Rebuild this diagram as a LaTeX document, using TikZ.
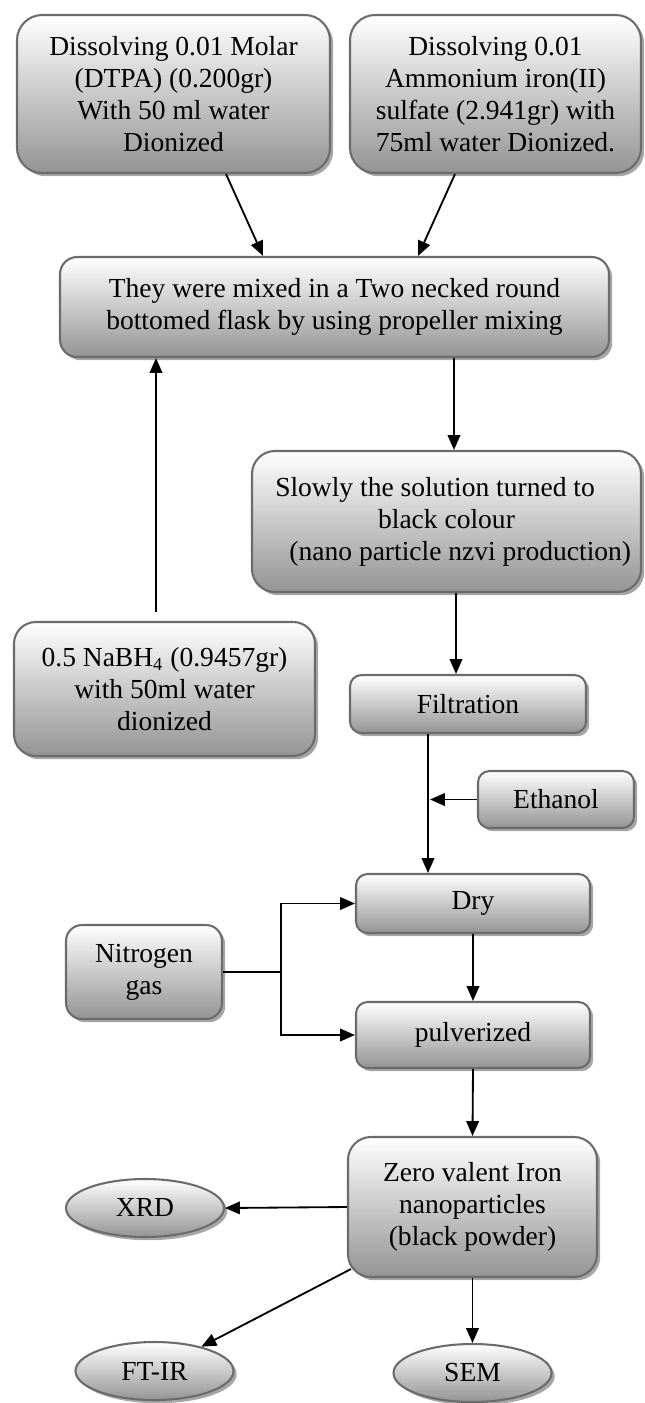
\documentclass[tikz,border=0pt]{standalone}
\usepackage{fontspec}
\setmainfont{Liberation Serif}
\usetikzlibrary{positioning,shapes.geometric,shadows,arrows.meta}
\newcommand{\pxu}{0.436pt}

\begin{document}
\begin{tikzpicture}[x=\pxu, y=-\pxu,
  every node/.style={font=\fontsize{12}{14}\selectfont, align=center, inner sep=0pt},
  box/.style={draw=black!58, line width=0.9pt, rounded corners=#1,
    top color=white, bottom color=black!42,
    drop shadow={shadow xshift=1.4pt, shadow yshift=-1.4pt, fill=black!35, opacity=1}},
  box/.default=5pt,
  oval/.style={ellipse, draw=black!58, line width=0.9pt,
    top color=white, bottom color=black!42,
    drop shadow={shadow xshift=1.4pt, shadow yshift=-1.4pt, fill=black!35, opacity=1},
    minimum width=158*\pxu, minimum height=58*\pxu},
  arr/.style={-{Triangle[length=6.5pt,width=5.5pt]}, line width=0.8pt}]
\useasboundingbox (0,0) rectangle (645,1403);

% starting solutions
\node[box=11pt, minimum width=313*\pxu, minimum height=158*\pxu] (dtpa) at (173.5,94)
  {Dissolving 0.01 Molar\\(DTPA) (0.200gr)\\With 50 ml water\\Dionized};
\node[box=11pt, minimum width=291*\pxu, minimum height=158*\pxu] (ammon) at (495.5,94)
  {Dissolving 0.01\\Ammonium iron(II)\\sulfate (2.941gr) with\\75ml water Dionized.};

% mixing and reduction
\node[box=7.5pt, minimum width=549*\pxu, minimum height=100*\pxu] (mix) at (334.5,307)
  {They were mixed in a Two necked round\\bottomed flask by using propeller mixing};
\node[box=10pt, minimum width=389*\pxu, minimum height=141*\pxu] (slow) at (446.5,521.5)
  {Slowly the solution turned to\hspace*{10pt}\\black colour\hspace*{10pt}\\\hspace*{12pt}(nano particle nzvi production)};
\node[box=9.5pt, minimum width=301*\pxu, minimum height=134*\pxu] (nabh) at (164.5,689)
  {0.5 NaBH\textsubscript{4} (0.9457gr)\\with 50ml water\\dionized};

% washing and drying
\node[box, minimum width=236*\pxu, minimum height=58*\pxu] (filt) at (468,704) {Filtration};
\node[box, minimum width=156*\pxu, minimum height=57*\pxu] (eth) at (556,799.5) {Ethanol};
\node[box, minimum width=234*\pxu, minimum height=59*\pxu] (dry) at (473,903.5) {Dry};
\node[box=7pt, minimum width=156*\pxu, minimum height=94*\pxu] (nitro) at (144,972) {Nitrogen\\gas};
\node[box, minimum width=234*\pxu, minimum height=66*\pxu] (pulv) at (473,1035) {pulverized};

% product and analysis
\node[box=10pt, minimum width=249*\pxu, minimum height=140*\pxu] (zero) at (472.5,1207)
  {Zero valent Iron\\nanoparticles\\(black powder)};
\node[oval] (xrd) at (145,1208) {XRD};
\node[oval] (ftir) at (154.5,1371) {FT-IR};
\node[oval] (sem) at (472.5,1373) {SEM};

% connectors
\draw[arr] ([xshift=52.5*\pxu]dtpa.south) -- ([xshift=-71.5*\pxu]mix.north);
\draw[arr] ([xshift=-40.5*\pxu]ammon.south) -- ([xshift=83.5*\pxu]mix.north);
\draw[arr, shorten <=4pt] ([xshift=-8.5*\pxu]nabh.north)
  -- ([xshift=-8.5*\pxu]nabh.north |- mix.south) ;
\draw[arr] ([xshift=7.5*\pxu]slow.north |- mix.south) -- ([xshift=7.5*\pxu]slow.north);
\draw[arr] ([xshift=-12*\pxu]filt.north |- slow.south) -- ([xshift=-12*\pxu]filt.north);
\draw[arr] ([xshift=-40*\pxu]filt.south) -- ([xshift=-40*\pxu]filt.south |- dry.north);
\draw[arr] (eth.west) -- ([xshift=-38*\pxu]filt.south |- eth.west);
\draw[line width=0.8pt] (nitro.east) -- ++(58,0) coordinate (split);
\draw[arr] ([yshift=-0.4pt]split) |- (dry.west);
\draw[arr] ([yshift=0.4pt]split) |- (pulv.west);
\draw[arr] (dry.south) -- (pulv.north);
\draw[arr] (pulv.south) -- (zero.north);
\draw[arr] (zero.west) -- (xrd.east);
\draw[arr] ([xshift=4*\pxu,yshift=9*\pxu]zero.south west) -- (ftir);
\draw[arr] (zero.south) -- (sem.north);
\end{tikzpicture}
\end{document}
